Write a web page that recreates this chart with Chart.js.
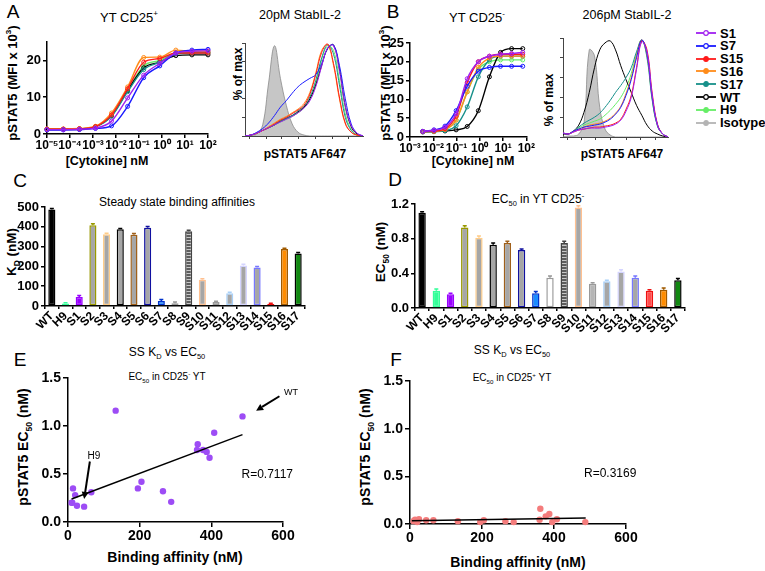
<!DOCTYPE html>
<html>
<head>
<meta charset="utf-8">
<title>StabIL-2 pSTAT5</title>
<script src="https://cdn.jsdelivr.net/npm/chart.js@4.4.1/dist/chart.umd.min.js"></script>
<style>
  body { margin:0; background:#fff; width:765px; height:571px; position:relative; overflow:hidden;
         font-family:Arial,"Liberation Sans",sans-serif; color:#000; }
  canvas { position:absolute; }
  .t { position:absolute; white-space:nowrap; transform:translate(-50%,-50%); line-height:1; }
  .rot { transform:translate(-50%,-50%) rotate(-90deg); }
  .b { font-weight:bold; }
  .letter { font-size:19px; }
  sup, sub { font-size:62%; line-height:0; }
  .leg { position:absolute; left:696px; font-weight:bold; font-size:13px; display:flex; align-items:center; height:14px; }
  .leg svg { margin-right:2px; }
</style>
</head>
<body>
<!-- panel letters and titles -->
<div class="t letter" style="left:13px;top:11px">A</div>
<div class="t" style="left:129px;top:17px;font-size:13px">YT CD25<sup>+</sup></div>
<div class="t" style="left:300px;top:15px;font-size:12.5px">20pM StabIL-2</div>
<div class="t rot b" style="left:12px;top:83px;font-size:13px">pSTAT5 (MFI x 10<sup>3</sup>)</div>
<div class="t b" style="left:107px;top:161px;font-size:12.5px">[Cytokine] nM</div>
<div class="t rot b" style="left:238px;top:74px;font-size:12px">% of max</div>
<div class="t b" style="left:305px;top:154px;font-size:12px">pSTAT5 AF647</div>

<div class="t letter" style="left:393px;top:11px">B</div>
<div class="t" style="left:477px;top:17px;font-size:13px">YT CD25<sup>-</sup></div>
<div class="t" style="left:627px;top:15px;font-size:12.5px">206pM StabIL-2</div>
<div class="t rot b" style="left:385px;top:83px;font-size:13px">pSTAT5 (MFI x 10<sup>3</sup>)</div>
<div class="t b" style="left:473px;top:161px;font-size:12.5px">[Cytokine] nM</div>
<div class="t rot b" style="left:549px;top:100px;font-size:12px">% of max</div>
<div class="t b" style="left:622px;top:154px;font-size:12px">pSTAT5 AF647</div>

<div class="t letter" style="left:20px;top:180px">C</div>
<div class="t" style="left:177px;top:202px;font-size:12px">Steady state binding affinities</div>
<div class="t rot b" style="left:12px;top:252px;font-size:13.5px">K<sub>D</sub> (nM)</div>

<div class="t letter" style="left:395px;top:179px">D</div>
<div class="t" style="left:538px;top:199px;font-size:12px">EC<sub>50</sub> in YT CD25<sup>-</sup></div>
<div class="t rot b" style="left:381px;top:252px;font-size:13.5px">EC<sub>50</sub> (nM)</div>

<div class="t letter" style="left:20px;top:359px">E</div>
<div class="t" style="left:167px;top:352px;font-size:12px">SS K<sub>D</sub> vs EC<sub>50</sub></div>
<div class="t" style="left:167px;top:377px;font-size:10px">EC<sub>50</sub> in CD25<sup>-</sup> YT</div>
<div class="t rot b" style="left:23px;top:447px;font-size:14px">pSTAT5 EC<sub>50</sub> (nM)</div>
<div class="t b" style="left:175px;top:557px;font-size:14px">Binding affinity (nM)</div>

<div class="t letter" style="left:396px;top:359px">F</div>
<div class="t" style="left:512px;top:350px;font-size:12px">SS K<sub>D</sub> vs EC<sub>50</sub></div>
<div class="t" style="left:512px;top:378px;font-size:10px">EC<sub>50</sub> in CD25<sup>+</sup> YT</div>
<div class="t rot b" style="left:365px;top:447px;font-size:14px">pSTAT5 EC<sub>50</sub> (nM)</div>
<div class="t b" style="left:518px;top:562px;font-size:14px">Binding affinity (nM)</div>

<script>
Chart.defaults.font.family = 'Arial, "Liberation Sans", sans-serif';
Chart.defaults.color = '#000';

// ---- dose response (A, B) ----
const names = ['S1', 'S7', 'S15', 'S16', 'S17', 'WT', 'H9'];
const lineColors = ['#a020f0', '#1a1aff', '#ff1a1a', '#ff8c1a', '#17908a', '#000000', '#66ee66'];
const isoColor = '#b4b4b4';

const concA = [1e-5, 5.12e-5, 2.56e-4, 1.28e-3, 6.4e-3, 0.032, 0.16, 0.8, 4, 20, 100];
const aS1  = [1.2, 1.2, 1.3, 1.6, 3.5, 9.8, 16.0, 19.2, 22.0, 22.5, 22.6];
const aS7  = [1.1, 1.1, 1.2, 1.5, 2.2, 7.5, 15.3, 18.5, 22.0, 22.8, 23.0];
const aS15 = [1.3, 1.3, 1.4, 2.0, 5.2, 12.3, 19.5, 20.5, 22.0, 22.0, 22.0];
const aS16 = [1.4, 1.4, 1.5, 2.1, 5.7, 12.8, 20.8, 20.9, 22.8, 22.5, 22.5];
const aS17 = [1.2, 1.2, 1.3, 1.9, 4.8, 11.5, 17.5, 19.5, 21.8, 22.0, 22.0];
const aWT  = [1.3, 1.3, 1.4, 2.0, 5.0, 11.8, 18.0, 19.5, 21.3, 21.5, 21.5];
const aH9  = [1.3, 1.3, 1.4, 2.0, 5.0, 12.0, 18.5, 20.0, 22.0, 22.2, 22.2];

const concB = [0.00356, 0.0107, 0.032, 0.096, 0.288, 0.864, 2.59, 7.78, 23.3, 70];
const bS1  = [1.5, 1.8, 2.6, 6.2, 15.5, 20.0, 21.5, 22.0, 22.2, 22.5];
const bS7  = [1.5, 1.9, 2.9, 7.0, 13.5, 17.5, 18.5, 18.8, 18.8, 18.8];
const bS15 = [1.4, 1.6, 2.2, 5.5, 14.5, 20.0, 21.5, 22.0, 22.0, 22.0];
const bS16 = [1.4, 1.5, 2.0, 4.5, 12.0, 18.5, 21.0, 21.5, 21.5, 21.5];
const bS17 = [1.3, 1.4, 1.7, 3.0, 8.0, 16.0, 20.5, 21.5, 21.5, 21.5];
const bWT  = [1.5, 1.5, 1.6, 1.9, 2.8, 7.0, 16.0, 22.5, 23.5, 23.5];
const bH9  = [1.4, 1.5, 2.0, 4.5, 12.0, 18.0, 20.0, 20.5, 20.5, 20.5];

const expA = [-5, -4, -3, -2, -1, 0, 1, 2];
const expB = [-3, -2, -1, 0, 1, 2];

// ---- histograms (% of max vs channel) ----
const histX = [0, 5, 10, 15, 20, 25, 30, 35, 40, 45, 50, 55, 60, 65, 70, 75, 80, 85, 90, 95, 100];
const histTicks = [4, 18, 31, 45, 60, 74, 88];
const hA_Iso = [0, 1, 2, 12, 57, 97, 62, 33, 13, 4, 1, 0, 0, 0, 0, 0, 0, 0, 0, 0, 0];
const hA_S1  = [0, 1, 3, 6, 9, 12, 15, 18, 21, 25, 30, 38, 53, 75, 95, 97, 70, 32, 11, 3, 0];
const hA_S7  = [0, 1, 4, 8, 14, 22, 31, 38, 46, 53, 58, 62, 66, 78, 94, 98, 76, 40, 13, 3, 0];
const hA_S15 = [0, 1, 3, 6, 9, 13, 17, 20, 24, 28, 33, 45, 66, 90, 99, 78, 42, 14, 4, 1, 0];
const hA_S16 = [0, 1, 3, 6, 10, 14, 18, 21, 25, 29, 35, 47, 68, 92, 98, 76, 40, 13, 4, 1, 0];
const hA_S17 = [0, 1, 3, 6, 9, 12, 16, 19, 22, 27, 32, 42, 60, 84, 98, 88, 55, 20, 6, 1, 0];
const hA_WT  = [0, 1, 3, 6, 9, 12, 16, 19, 22, 26, 31, 40, 55, 76, 94, 98, 72, 32, 10, 2, 0];
const hA_H9  = [0, 1, 3, 6, 9, 12, 15, 18, 21, 25, 30, 40, 57, 82, 97, 92, 60, 24, 7, 1, 0];

const hB_Iso = [0, 1, 1, 3, 14, 88, 82, 30, 8, 2, 0, 0, 0, 0, 0, 0, 0, 0, 0, 0, 0];
const hB_S1  = [4, 3, 5, 7, 8, 9, 9, 9, 10, 11, 13, 17, 26, 40, 68, 96, 86, 42, 12, 3, 0];
const hB_S7  = [4, 3, 6, 8, 10, 11, 12, 13, 15, 18, 23, 30, 42, 58, 80, 98, 84, 40, 12, 3, 0];
const hB_S15 = [4, 3, 5, 7, 8, 9, 10, 10, 11, 12, 14, 18, 28, 42, 70, 97, 88, 44, 13, 3, 0];
const hB_S16 = [4, 3, 6, 8, 10, 12, 13, 14, 16, 19, 24, 31, 44, 60, 82, 98, 83, 40, 12, 3, 0];
const hB_S17 = [4, 3, 6, 10, 14, 17, 20, 24, 30, 37, 45, 52, 60, 70, 86, 98, 80, 37, 11, 3, 0];
const hB_WT  = [3, 3, 6, 12, 25, 45, 70, 88, 95, 97, 88, 72, 58, 45, 32, 22, 12, 6, 3, 1, 0];
const hB_H9  = [4, 3, 6, 9, 12, 14, 16, 18, 22, 27, 33, 40, 50, 64, 84, 98, 82, 38, 11, 3, 0];

// ---- bars (C, D) and scatter (E, F) ----
const cats = ['WT', 'H9', 'S1', 'S2', 'S3', 'S4', 'S5', 'S6', 'S7', 'S8', 'S9', 'S10', 'S11', 'S12', 'S13', 'S14', 'S15', 'S16', 'S17'];
const kd     = [487, 12, 45, 408, 362, 387, 360, 395, 25, 14, 377, 133, 20, 65, 205, 195, 10, 288, 265];
const kdErr  = [5, 4, 8, 7, 6, 5, 6, 7, 8, 6, 5, 4, 4, 5, 6, 5, 4, 4, 5];
const ecMinus = [1.10, 0.20, 0.16, 0.93, 0.81, 0.73, 0.75, 0.67, 0.17, 0.35, 0.75, 1.16, 0.28, 0.31, 0.42, 0.35, 0.20, 0.21, 0.32];
const ecErr   = [0.01, 0.02, 0.01, 0.02, 0.02, 0.02, 0.02, 0.01, 0.02, 0.02, 0.02, 0.02, 0.01, 0.01, 0.02, 0.02, 0.01, 0.02, 0.02];
const ecPlus  = [0.02, 0.035, 0.04, 0.05, 0.16, 0.105, 0.045, 0.02, 0.05, 0.045, 0.08, 0.03, 0.02, 0.04, 0.04, 0.02, 0.03, 0.02, 0.03];
const fitEx = [10, 487], fitEy = [0.24, 0.91];
const fitFx = [5, 488],  fitFy = [0.033, 0.063];

const barFill = ['#000000', '#33ff99', '#9900ff', '#a6a6a6', '#a6a6a6', '#a6a6a6', '#a6a6a6', '#a6a6a6', '#1a8cff', '#ffffff',
                 'STRIPES', '#a6a6a6', '#b5b5b5', '#a6a6a6', '#a6a6a6', '#a6a6a6', '#ff4d4d', '#ff8c00', '#118811'];
const barEdge = ['#000000', '#33ff99', '#9900ff', '#999900', '#ffcc88', '#000000', '#a0601a', '#1010a0', '#0033cc', '#999999',
                 '#444444', '#ffc090', '#999999', '#a8d0f8', '#d4d4ff', '#7777ff', '#ee1111', '#a05a00', '#000000'];

// helpers
function makeCanvas(left, top, w, h) {
  const c = document.createElement('canvas');
  c.width = w; c.height = h;
  c.style.left = left + 'px'; c.style.top = top + 'px';
  c.style.width = w + 'px'; c.style.height = h + 'px';
  document.body.appendChild(c);
  return c;
}
const supMap = { '-': '\u207B', '0': '\u2070', '1': '\u00B9', '2': '\u00B2', '3': '\u00B3', '4': '\u2074', '5': '\u2075' };
function pow10Label(v) {
  const e = String(Math.round(Math.log10(v)));
  return '10' + e.split('').map(ch => supMap[ch]).join('');
}
function stripes() {
  const p = document.createElement('canvas');
  p.width = 4; p.height = 3;
  const g = p.getContext('2d');
  g.fillStyle = '#5c5c5c'; g.fillRect(0, 0, 4, 3);
  g.fillStyle = '#c8c8c8'; g.fillRect(0, 1, 4, 1);
  return g.createPattern(p, 'repeat');
}
const base = { responsive: false, animation: false, devicePixelRatio: 1,
               plugins: { legend: { display: false }, tooltip: { enabled: false } } };

// error bars on top of each bar
const errorBars = {
  id: 'errorBars',
  afterDatasetsDraw(chart, args, opts) {
    const ctx = chart.ctx, ys = chart.scales.y, ds = chart.data.datasets[0];
    chart.getDatasetMeta(0).data.forEach((bar, i) => {
      const top = ys.getPixelForValue(ds.data[i] + opts.err[i]);
      ctx.save();
      ctx.strokeStyle = barEdge[i];
      ctx.lineWidth = 1.5;
      ctx.beginPath();
      ctx.moveTo(bar.x, bar.y); ctx.lineTo(bar.x, top);
      ctx.moveTo(bar.x - 2, top); ctx.lineTo(bar.x + 2, top);
      ctx.stroke();
      ctx.restore();
    });
  }
};

// text + arrows placed in data coordinates
const notes = {
  id: 'notes',
  afterDraw(chart, args, opts) {
    const { ctx, scales: { x, y } } = chart;
    (opts.texts || []).forEach(t => {
      ctx.save();
      ctx.font = t.font; ctx.fillStyle = '#000';
      ctx.textAlign = 'center'; ctx.textBaseline = 'middle';
      ctx.fillText(t.text, x.getPixelForValue(t.x), y.getPixelForValue(t.y));
      ctx.restore();
    });
    (opts.arrows || []).forEach(a => {
      const x0 = x.getPixelForValue(a.x0), y0 = y.getPixelForValue(a.y0);
      const x1 = x.getPixelForValue(a.x1), y1 = y.getPixelForValue(a.y1);
      const ang = Math.atan2(y1 - y0, x1 - x0), hl = 7, hw = 3.5;
      ctx.save();
      ctx.strokeStyle = '#000'; ctx.fillStyle = '#000'; ctx.lineWidth = 2;
      ctx.beginPath(); ctx.moveTo(x0, y0);
      ctx.lineTo(x1 - Math.cos(ang) * hl, y1 - Math.sin(ang) * hl); ctx.stroke();
      ctx.beginPath();
      ctx.moveTo(x1, y1);
      ctx.lineTo(x1 - Math.cos(ang) * hl - Math.sin(ang) * hw, y1 - Math.sin(ang) * hl + Math.cos(ang) * hw);
      ctx.lineTo(x1 - Math.cos(ang) * hl + Math.sin(ang) * hw, y1 - Math.sin(ang) * hl - Math.cos(ang) * hw);
      ctx.closePath(); ctx.fill();
      ctx.restore();
    });
  }
};

function axisLook(size) {
  return {
    border: { color: '#000', width: 1.5 },
    grid: { drawOnChartArea: false, color: '#000', lineWidth: 1.5, tickLength: 4 },
    ticks: { color: '#000', font: { weight: 'bold', size: size } }
  };
}

// ---- A / B dose response ----
function doseChart(canvas, conc, series, exps, yw, xh, pad) {
  const xLook = axisLook(12), yLook = axisLook(13);
  return new Chart(canvas, {
    type: 'line',
    data: {
      datasets: series.map((vals, i) => ({
        label: names[i],
        data: conc.map((c, j) => ({ x: c, y: vals[j] })),
        borderColor: lineColors[i], borderWidth: 1.4,
        pointRadius: 2, pointBorderWidth: 1,
        pointBorderColor: lineColors[i], pointBackgroundColor: 'rgba(255,255,255,0)',
        cubicInterpolationMode: 'monotone', fill: false, clip: false
      }))
    },
    options: Object.assign({}, base, {
      layout: { padding: pad },
      scales: {
        x: Object.assign(xLook, {
          type: 'logarithmic', min: Math.pow(10, exps[0]), max: Math.pow(10, exps[exps.length - 1]),
          ticks: Object.assign(xLook.ticks, { autoSkip: false, maxRotation: 0, padding: 0, callback: v => pow10Label(v) }),
          afterBuildTicks: s => { s.ticks = exps.map(e => ({ value: Math.pow(10, e) })); },
          afterFit: s => { s.height = xh; }
        }),
        y: Object.assign(yLook, {
          min: 0, max: 25,
          ticks: Object.assign(yLook.ticks, { stepSize: 5, padding: 2 }),
          afterFit: s => { s.width = yw; }
        })
      }
    })
  });
}
doseChart(makeCanvas(0, 28, 226, 134), concA, [aS1, aS7, aS15, aS16, aS17, aWT, aH9], expA, 47, 28,
          { top: 14, right: 18, left: 0, bottom: 0 });
doseChart(makeCanvas(385, 28, 150, 134), concB, [bS1, bS7, bS15, bS16, bS17, bWT, bH9], expB, 25, 25,
          { top: 15, right: 7, left: 0, bottom: 0 });

// ---- histograms ----
function histChart(canvas, iso, series, pad) {
  const hLook = {
    border: { color: '#444', width: 1 },
    grid: { drawOnChartArea: false, color: '#444', lineWidth: 1, tickLength: 3 },
    ticks: { display: false }
  };
  const sets = series.map((vals, i) => ({
    data: histX.map((x, j) => ({ x: x, y: vals[j] })),
    borderColor: lineColors[i], borderWidth: 1, pointRadius: 0, tension: 0.4, fill: false
  }));
  sets.push({
    data: histX.map((x, j) => ({ x: x, y: iso[j] })),
    borderColor: '#8a8a8a', borderWidth: 0.8, backgroundColor: '#c6c6c6',
    pointRadius: 0, tension: 0.4, fill: 'origin'
  });
  return new Chart(canvas, {
    type: 'line',
    data: { datasets: sets },
    options: Object.assign({}, base, {
      layout: { padding: pad },
      scales: {
        x: Object.assign({}, hLook, { type: 'linear', min: 0, max: 100,
          afterBuildTicks: s => { s.ticks = histTicks.map(v => ({ value: v })); },
          afterFit: s => { s.height = 6; } }),
        y: Object.assign({}, hLook, { min: 0, max: 100,
          afterBuildTicks: s => { s.ticks = [0, 20, 40, 60, 80, 100].map(v => ({ value: v })); },
          afterFit: s => { s.width = 10; } })
      }
    })
  });
}
histChart(makeCanvas(235, 30, 135, 112), hA_Iso, [hA_S1, hA_S7, hA_S15, hA_S16, hA_S17, hA_WT, hA_H9],
          { top: 13, right: 7, left: 0, bottom: 0 });
histChart(makeCanvas(553, 26, 122, 117), hB_Iso, [hB_S1, hB_S7, hB_S15, hB_S16, hB_S17, hB_WT, hB_H9],
          { top: 12, right: 7, left: 0, bottom: 0 });

// legend
names.concat(['Isotype']).forEach((n, i) => {
  const c = i < names.length ? lineColors[i] : isoColor;
  const filled = ['S15', 'S16', 'S17', 'H9', 'Isotype'].indexOf(n) >= 0;
  const d = document.createElement('div');
  d.className = 'leg';
  d.style.top = (26 + 12.8 * i) + 'px';
  d.innerHTML = '<svg width="22" height="8"><line x1="0" y1="4" x2="20" y2="4" stroke="' + c + '" stroke-width="1.8"/>' +
    '<circle cx="10" cy="4" r="2.3" fill="' + (filled ? c : '#fff') + '" stroke="' + c + '" stroke-width="1.2"/></svg><span>' + n + '</span>';
  document.body.appendChild(d);
});

// ---- C / D bars ----
function barChart(canvas, vals, err, ymax, step, yw, xh, pad, fmt) {
  const pat = stripes();
  const xLook = axisLook(12), yLook = axisLook(13);
  return new Chart(canvas, {
    type: 'bar',
    data: {
      labels: cats,
      datasets: [{
        data: vals,
        backgroundColor: barFill.map(f => f === 'STRIPES' ? pat : f),
        borderColor: barEdge, borderWidth: 1.5, borderSkipped: false,
        barPercentage: 0.52, categoryPercentage: 1
      }]
    },
    options: Object.assign({}, base, {
      layout: { padding: pad },
      plugins: Object.assign({}, base.plugins, { errorBars: { err: err } }),
      scales: {
        x: Object.assign(xLook, {
          grid: Object.assign(xLook.grid, { tickLength: 3 }),
          ticks: Object.assign(xLook.ticks, { autoSkip: false, minRotation: 45, maxRotation: 45, padding: 0 }),
          afterFit: s => { s.height = xh; }
        }),
        y: Object.assign(yLook, {
          min: 0, max: ymax,
          ticks: Object.assign(yLook.ticks, { stepSize: step, padding: 2, callback: fmt }),
          afterFit: s => { s.width = yw; }
        })
      }
    }),
    plugins: [errorBars]
  });
}
barChart(makeCanvas(0, 194, 320, 162), kd, kdErr, 500, 100, 45, 50,
         { top: 13, right: 15, left: 0, bottom: 0 }, v => v);
barChart(makeCanvas(385, 190, 310, 166), ecMinus, ecErr, 1.2, 0.4, 30, 48,
         { top: 14, right: 10, left: 0, bottom: 0 }, v => v.toFixed(1));

// ---- E / F scatter ----
function scatterChart(canvas, ys, fitX, fitY, color, yw, xh, pad, noteOpts) {
  const xLook = axisLook(14), yLook = axisLook(14);
  return new Chart(canvas, {
    type: 'scatter',
    data: {
      datasets: [
        { data: fitX.map((x, i) => ({ x: x, y: fitY[i] })), showLine: true,
          borderColor: '#000', borderWidth: 1.5, pointRadius: 0, clip: false },
        { data: kd.map((x, i) => ({ x: x, y: ys[i] })),
          backgroundColor: color, borderWidth: 0, pointRadius: 3.2, clip: false }
      ]
    },
    options: Object.assign({}, base, {
      layout: { padding: pad },
      plugins: Object.assign({}, base.plugins, { notes: noteOpts }),
      scales: {
        x: Object.assign(xLook, {
          min: 0, max: 600,
          grid: Object.assign(xLook.grid, { tickLength: 5 }),
          ticks: Object.assign(xLook.ticks, { stepSize: 200, padding: 1, maxRotation: 0 }),
          afterFit: s => { s.height = xh; }
        }),
        y: Object.assign(yLook, {
          min: 0, max: 1.5,
          grid: Object.assign(yLook.grid, { tickLength: 5 }),
          ticks: Object.assign(yLook.ticks, { stepSize: 0.5, padding: 2, callback: v => v.toFixed(1) }),
          afterFit: s => { s.width = yw; }
        })
      }
    }),
    plugins: [notes]
  });
}
scatterChart(makeCanvas(0, 364, 300, 207), ecMinus, fitEx, fitEy, '#9d4cf5', 68, 49,
  { top: 14, right: 17, left: 0, bottom: 0 },
  {
    texts: [
      { text: 'R=0.7117', x: 556, y: 0.49, font: '12px Arial, "Liberation Sans", sans-serif' },
      { text: 'WT', x: 622, y: 1.35, font: '9px Arial, "Liberation Sans", sans-serif' },
      { text: 'H9', x: 72, y: 0.69, font: '10px Arial, "Liberation Sans", sans-serif' }
    ],
    arrows: [
      { x0: 590, y0: 1.31, x1: 525, y1: 1.16 },
      { x0: 61, y0: 0.63, x1: 45, y1: 0.24 }
    ]
  });
scatterChart(makeCanvas(375, 367, 265, 204), ecPlus, fitFx, fitFy, '#f47c7c', 35, 47,
  { top: 14, right: 14, left: 0, bottom: 0 },
  {
    texts: [{ text: 'R=0.3169', x: 556, y: 0.53, font: '12px Arial, "Liberation Sans", sans-serif' }],
    arrows: []
  });
</script>
</body>
</html>
